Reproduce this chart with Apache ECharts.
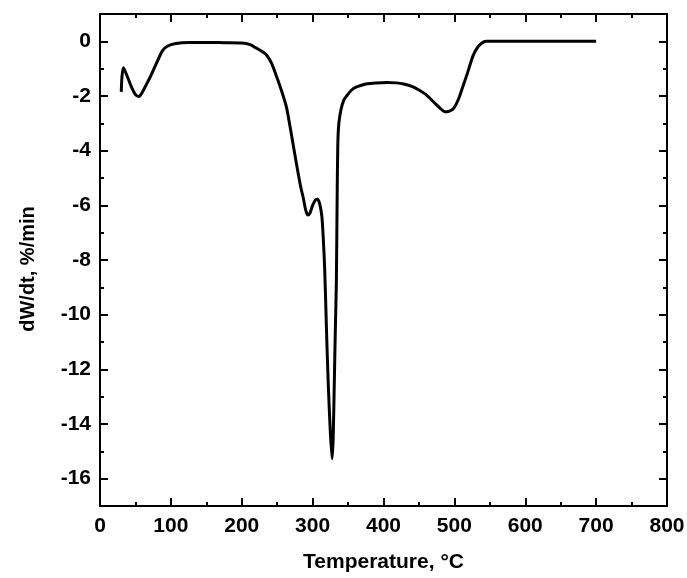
<!DOCTYPE html>
<html>
<head>
<meta charset="utf-8">
<script src="https://cdn.jsdelivr.net/npm/echarts@6/dist/echarts.min.js"></script>
<style>
  html, body { margin: 0; padding: 0; background: #fff; }
  #dtgChart { width: 687px; height: 578px; }
</style>
</head>
<body>
<div id="dtgChart"></div>
<script>
// DTG curve
var temps = [30, 31, 33, 38, 44, 50, 55, 60, 65, 70, 78, 88, 95, 107, 125, 150, 175, 200, 212, 220,
  228, 235, 242, 249, 256, 263, 268, 272, 278, 283, 287, 290, 293, 296, 300, 304, 307, 310, 313, 315,
  317, 319.5, 322, 325, 327.5, 329, 330.5, 332, 333.5, 334.5, 335.5, 337, 340, 344, 348, 355, 362, 375, 390, 405,
  418, 430, 440, 450, 460, 470, 480, 487, 493, 499, 506, 512, 518, 526, 532, 538, 545, 560, 600, 650, 700];
var dwdt = [-1.85, -1.3, -0.97, -1.25, -1.65, -1.95, -2.02, -1.85, -1.6, -1.35, -0.9, -0.35, -0.18, -0.08, -0.04, -0.04, -0.05, -0.06, -0.12, -0.24,
  -0.36, -0.5, -0.8, -1.28, -1.8, -2.4, -3.1, -3.7, -4.6, -5.3, -5.75, -6.15, -6.35, -6.3, -6.0, -5.8, -5.78, -5.95, -6.4, -7.2,
  -8.3, -10.5, -12.5, -14.3, -15.27, -14.5, -12.6, -10.6, -8.8, -6.0, -3.8, -3.0, -2.5, -2.15, -2.0, -1.78, -1.67, -1.56, -1.52, -1.51,
  -1.52, -1.57, -1.65, -1.78, -1.95, -2.2, -2.45, -2.58, -2.55, -2.45, -2.1, -1.65, -1.2, -0.55, -0.25, -0.08, 0, 0, 0, 0, 0];

// tick values
var yMajor = [-16, -14, -12, -10, -8, -6, -4, -2, 0];
var yMinor = [-17, -15, -13, -11, -9, -7, -5, -3, -1, 1];

var font = '"Liberation Sans", Arial, Helvetica, sans-serif';

var points = [];
for (var i = 0; i < temps.length; i++) {
  points.push([temps[i], dwdt[i]]);
}

function xAxisOf(pos, showLabel) {
  return {
    type: 'value', position: pos, min: 0, max: 800, interval: 100,
    name: showLabel ? 'Temperature, \u00B0C' : '',
    nameLocation: 'middle', nameGap: 46,
    nameTextStyle: { fontFamily: font, fontWeight: 'bold', fontSize: 21, color: '#000' },
    axisLine: { show: true, onZero: false, lineStyle: { color: '#000', width: 2 } },
    axisTick: { show: true, inside: true, length: 8, lineStyle: { color: '#000', width: 2 } },
    minorTick: { show: true, splitNumber: 2, length: 4, lineStyle: { color: '#000', width: 2 } },
    axisLabel: { show: showLabel, margin: 10, fontFamily: font, fontWeight: 'bold', fontSize: 21, color: '#000' },
    splitLine: { show: false }
  };
}

function yAxisOf(pos, showLabel, minor) {
  return {
    type: 'value', position: pos, min: -17, max: 1, interval: 1,
    name: showLabel ? 'dW/dt, %/min' : '',
    nameLocation: 'middle', nameGap: 62,
    nameTextStyle: { fontFamily: font, fontWeight: 'bold', fontSize: 20, color: '#000', padding: [0, 18, 0, 0] },
    axisLine: { show: !minor, onZero: false, lineStyle: { color: '#000', width: 2 } },
    axisTick: { show: true, inside: true, length: minor ? 4 : 8, customValues: minor ? yMinor : yMajor,
      lineStyle: { color: '#000', width: 2 } },
    axisLabel: { show: showLabel, margin: 9, customValues: yMajor,
      fontFamily: font, fontWeight: 'bold', fontSize: 21, color: '#000' },
    splitLine: { show: false }
  };
}

var chart = echarts.init(document.getElementById('dtgChart'), null, { renderer: 'canvas' });
var option = {
  backgroundColor: '#fff',
  animation: false,
  grid: { left: 100, right: 20, top: 14, bottom: 72, outerBoundsMode: 'none' },
  xAxis: [xAxisOf('bottom', true), xAxisOf('top', false)],
  yAxis: [yAxisOf('left', true, false), yAxisOf('right', false, false),
          yAxisOf('left', false, true), yAxisOf('right', false, true)],
  series: [{
    type: 'line',
    xAxisIndex: 0,
    yAxisIndex: 0,
    data: points,
    showSymbol: false,
    smooth: 0.25,
    lineStyle: { color: '#000', width: 3 }
  }]
};
chart.setOption(option);
</script>
</body>
</html>
